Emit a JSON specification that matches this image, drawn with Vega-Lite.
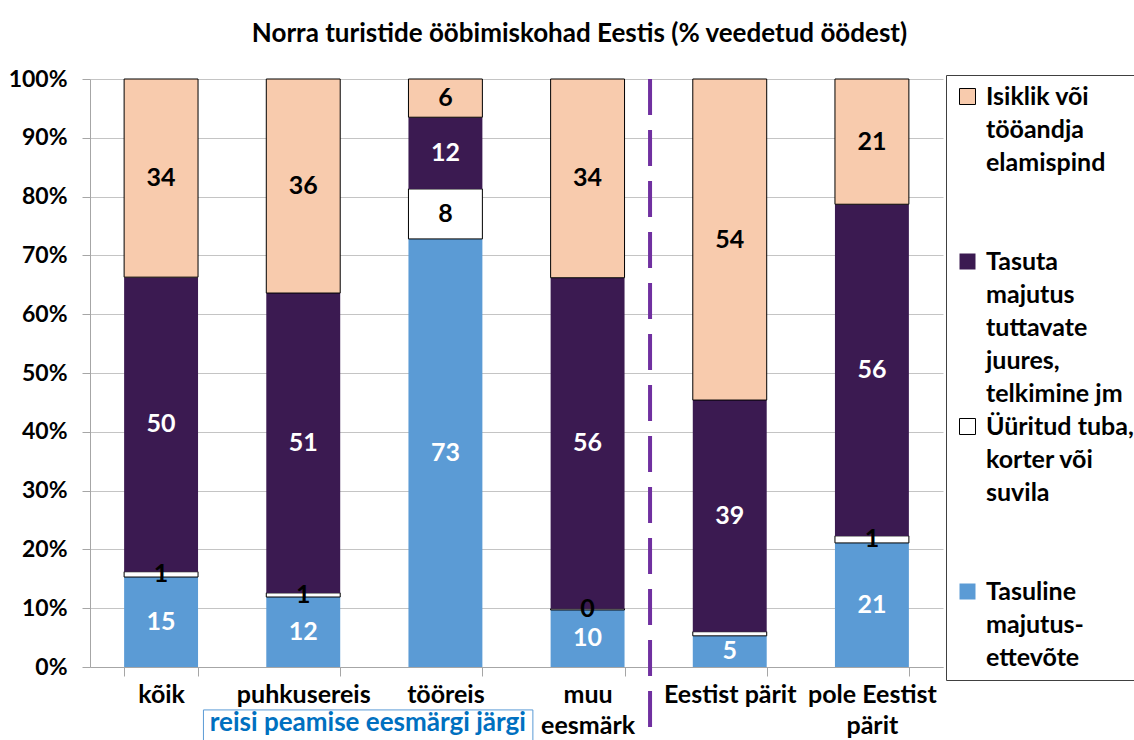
{
  "$schema": "https://vega.github.io/schema/vega-lite/v6.json",
  "width": 853,
  "height": 588,
  "autosize": {"type": "none"},
  "padding": {"left": 90, "top": 79, "right": 191, "bottom": 73},
  "background": "white",
  "title": {
    "text": "Norra turistide ööbimiskohad Eestis (% veedetud öödest)",
    "font": "Lato", "fontSize": 26, "fontWeight": "bold", "color": "#000000",
    "anchor": "middle", "dx": 63, "offset": 21
  },
  "datasets": {
    "majutus": [
      {"kat": "kõik", "liik": "Tasuline majutus-ettevõte", "jrk": 1, "osa": 15.3, "silt": "15"},
      {"kat": "kõik", "liik": "Üüritud tuba, korter või suvila", "jrk": 2, "osa": 0.9, "silt": "1"},
      {"kat": "kõik", "liik": "Tasuta majutus tuttavate juures, telkimine jm", "jrk": 3, "osa": 50.1, "silt": "50"},
      {"kat": "kõik", "liik": "Isiklik või tööandja elamispind", "jrk": 4, "osa": 33.7, "silt": "34"},
      {"kat": "puhkusereis", "liik": "Tasuline majutus-ettevõte", "jrk": 1, "osa": 11.9, "silt": "12"},
      {"kat": "puhkusereis", "liik": "Üüritud tuba, korter või suvila", "jrk": 2, "osa": 0.7, "silt": "1"},
      {"kat": "puhkusereis", "liik": "Tasuta majutus tuttavate juures, telkimine jm", "jrk": 3, "osa": 51.0, "silt": "51"},
      {"kat": "puhkusereis", "liik": "Isiklik või tööandja elamispind", "jrk": 4, "osa": 36.4, "silt": "36"},
      {"kat": "tööreis", "liik": "Tasuline majutus-ettevõte", "jrk": 1, "osa": 72.8, "silt": "73"},
      {"kat": "tööreis", "liik": "Üüritud tuba, korter või suvila", "jrk": 2, "osa": 8.5, "silt": "8"},
      {"kat": "tööreis", "liik": "Tasuta majutus tuttavate juures, telkimine jm", "jrk": 3, "osa": 12.2, "silt": "12"},
      {"kat": "tööreis", "liik": "Isiklik või tööandja elamispind", "jrk": 4, "osa": 6.5, "silt": "6"},
      {"kat": "muu eesmärk", "liik": "Tasuline majutus-ettevõte", "jrk": 1, "osa": 9.7, "silt": "10"},
      {"kat": "muu eesmärk", "liik": "Üüritud tuba, korter või suvila", "jrk": 2, "osa": 0.2, "silt": "0"},
      {"kat": "muu eesmärk", "liik": "Tasuta majutus tuttavate juures, telkimine jm", "jrk": 3, "osa": 56.3, "silt": "56"},
      {"kat": "muu eesmärk", "liik": "Isiklik või tööandja elamispind", "jrk": 4, "osa": 33.8, "silt": "34"},
      {"kat": "Eestist pärit", "liik": "Tasuline majutus-ettevõte", "jrk": 1, "osa": 5.3, "silt": "5"},
      {"kat": "Eestist pärit", "liik": "Üüritud tuba, korter või suvila", "jrk": 2, "osa": 0.7, "silt": ""},
      {"kat": "Eestist pärit", "liik": "Tasuta majutus tuttavate juures, telkimine jm", "jrk": 3, "osa": 39.4, "silt": "39"},
      {"kat": "Eestist pärit", "liik": "Isiklik või tööandja elamispind", "jrk": 4, "osa": 54.6, "silt": "54"},
      {"kat": "pole Eestist pärit", "liik": "Tasuline majutus-ettevõte", "jrk": 1, "osa": 21.1, "silt": "21"},
      {"kat": "pole Eestist pärit", "liik": "Üüritud tuba, korter või suvila", "jrk": 2, "osa": 1.2, "silt": "1"},
      {"kat": "pole Eestist pärit", "liik": "Tasuta majutus tuttavate juures, telkimine jm", "jrk": 3, "osa": 56.4, "silt": "56"},
      {"kat": "pole Eestist pärit", "liik": "Isiklik või tööandja elamispind", "jrk": 4, "osa": 21.3, "silt": "21"}
    ],
    "eraldaja": [{"kat": "muu eesmärk"}],
    "markus": [{"tekst": "reisi peamise eesmärgi järgi"}]
  },
  "layer": [
    {
      "data": {"name": "majutus"},
      "mark": {"type": "bar", "strokeWidth": 1},
      "encoding": {
        "x": {
          "field": "kat", "type": "nominal", "sort": null,
          "scale": {"domain": ["kõik", "puhkusereis", "tööreis", "muu eesmärk", "Eestist pärit", "pole Eestist pärit"], "paddingInner": 0.48, "paddingOuter": 0.24},
          "axis": {
            "title": null, "labelAngle": 0,
            "labelExpr": "datum.label == 'muu eesmärk' ? ['muu', 'eesmärk'] : datum.label == 'pole Eestist pärit' ? ['pole Eestist', 'pärit'] : datum.label",
            "labelLineHeight": 31, "tickBand": "extent", "tickSize": 9, "labelPadding": 6,
            "domainColor": "#A6A6A6", "tickColor": "#A6A6A6",
            "labelFont": "Lato", "labelFontSize": 25, "labelFontWeight": "bold", "labelColor": "#000000",
            "labelOverlap": false, "labelLimit": 0, "grid": false
          }
        },
        "y": {
          "field": "osa", "type": "quantitative", "stack": "normalize",
          "scale": {"domain": [0, 1], "nice": false, "zero": false},
          "axis": {
            "title": null, "values": [0, 0.1, 0.2, 0.3, 0.4, 0.5, 0.6, 0.7, 0.8, 0.9, 1], "format": ".0%",
            "grid": true, "gridColor": "#C4C4C4", "domainColor": "#A6A6A6", "tickColor": "#A6A6A6",
            "tickSize": 8, "labelPadding": 15,
            "labelFont": "Lato", "labelFontSize": 23, "labelFontWeight": "bold", "labelColor": "#000000"
          }
        },
        "color": {
          "field": "liik", "type": "nominal",
          "scale": {
            "domain": ["Isiklik või tööandja elamispind", "Tasuta majutus tuttavate juures, telkimine jm", "Üüritud tuba, korter või suvila", "Tasuline majutus-ettevõte"],
            "range": ["#F8CBAD", "#3B1A51", "#FFFFFF", "#5B9BD5"]
          },
          "legend": {
            "title": null, "orient": "none", "legendX": 856, "legendY": -4, "direction": "vertical",
            "strokeColor": "#404040", "padding": 9, "symbolType": "square", "symbolSize": 256, "symbolStrokeWidth": 1,
            "labelFont": "Lato", "labelFontSize": 25, "labelFontWeight": "bold", "labelColor": "#000000",
            "labelOffset": 6, "labelBaseline": "middle", "gridAlign": "all", "rowPadding": 7, "labelLimit": 0,
            "labelExpr": "datum.label == 'Isiklik või tööandja elamispind' ? ['Isiklik või', 'tööandja', 'elamispind'] : datum.label == 'Tasuta majutus tuttavate juures, telkimine jm' ? ['Tasuta', 'majutus', 'tuttavate', 'juures,', 'telkimine jm'] : datum.label == 'Üüritud tuba, korter või suvila' ? ['Üüritud tuba,', 'korter või', 'suvila'] : ['Tasuline', 'majutus-', 'ettevõte']"
          }
        },
        "stroke": {
          "field": "liik", "type": "nominal",
          "scale": {
            "domain": ["Isiklik või tööandja elamispind", "Tasuta majutus tuttavate juures, telkimine jm", "Üüritud tuba, korter või suvila", "Tasuline majutus-ettevõte"],
            "range": ["#000000", "transparent", "#000000", "transparent"]
          },
          "legend": {
            "title": null, "orient": "none", "legendX": 856, "legendY": -4, "direction": "vertical",
            "strokeColor": "#404040", "padding": 9, "symbolType": "square", "symbolSize": 256, "symbolStrokeWidth": 1,
            "labelFont": "Lato", "labelFontSize": 25, "labelFontWeight": "bold", "labelColor": "#000000",
            "labelOffset": 6, "labelBaseline": "middle", "gridAlign": "all", "rowPadding": 7, "labelLimit": 0,
            "labelExpr": "datum.label == 'Isiklik või tööandja elamispind' ? ['Isiklik või', 'tööandja', 'elamispind'] : datum.label == 'Tasuta majutus tuttavate juures, telkimine jm' ? ['Tasuta', 'majutus', 'tuttavate', 'juures,', 'telkimine jm'] : datum.label == 'Üüritud tuba, korter või suvila' ? ['Üüritud tuba,', 'korter või', 'suvila'] : ['Tasuline', 'majutus-', 'ettevõte']"
          }
        },
        "order": {"field": "jrk", "type": "quantitative"}
      }
    },
    {
      "data": {"name": "majutus"},
      "mark": {"type": "text", "font": "Lato", "fontSize": 25, "fontWeight": "bold", "baseline": "middle"},
      "encoding": {
        "x": {"field": "kat", "type": "nominal", "sort": null, "scale": {"domain": ["kõik", "puhkusereis", "tööreis", "muu eesmärk", "Eestist pärit", "pole Eestist pärit"]}},
        "y": {"field": "osa", "type": "quantitative", "stack": "normalize", "bandPosition": 0.5, "scale": {"domain": [0, 1]}},
        "fill": {
          "field": "liik", "type": "nominal",
          "scale": {
            "domain": ["Isiklik või tööandja elamispind", "Tasuta majutus tuttavate juures, telkimine jm", "Üüritud tuba, korter või suvila", "Tasuline majutus-ettevõte"],
            "range": ["#000000", "#FFFFFF", "#000000", "#FFFFFF"]
          },
          "legend": null
        },
        "order": {"field": "jrk", "type": "quantitative"},
        "text": {"field": "silt", "type": "nominal"}
      }
    },
    {
      "data": {"name": "eraldaja"},
      "mark": {"type": "rule", "color": "#7030A0", "strokeWidth": 4, "strokeDash": [36, 15]},
      "encoding": {
        "x": {"field": "kat", "type": "nominal", "bandPosition": 1.345, "sort": null, "scale": {"domain": ["kõik", "puhkusereis", "tööreis", "muu eesmärk", "Eestist pärit", "pole Eestist pärit"]}},
        "y": {"datum": 1, "type": "quantitative", "scale": {"domain": [0, 1]}},
        "y2": {"datum": -0.116}
      }
    },
    {
      "data": {"name": "markus"},
      "mark": {"type": "rect", "fill": "#FFFFFF", "stroke": "#5B9BD5", "strokeWidth": 1},
      "encoding": {
        "x": {"datum": "puhkusereis", "type": "nominal", "bandPosition": -0.85, "scale": {"domain": ["kõik", "puhkusereis", "tööreis", "muu eesmärk", "Eestist pärit", "pole Eestist pärit"]}},
        "x2": {"datum": "muu eesmärk", "bandPosition": -0.24},
        "y": {"datum": -0.073, "type": "quantitative", "scale": {"domain": [0, 1]}},
        "y2": {"datum": -0.2}
      }
    },
    {
      "data": {"name": "markus"},
      "mark": {"type": "text", "color": "#0070C0", "font": "Lato", "fontSize": 26, "fontWeight": "bold", "baseline": "middle"},
      "encoding": {
        "x": {"datum": "tööreis", "type": "nominal", "bandPosition": -0.55, "scale": {"domain": ["kõik", "puhkusereis", "tööreis", "muu eesmärk", "Eestist pärit", "pole Eestist pärit"]}},
        "y": {"datum": -0.095, "type": "quantitative", "scale": {"domain": [0, 1]}},
        "text": {"field": "tekst", "type": "nominal"}
      }
    }
  ],
  "config": {
    "font": "Lato",
    "view": {"stroke": null},
    "style": {"guide-label": {"lineHeight": 33}}
  }
}
